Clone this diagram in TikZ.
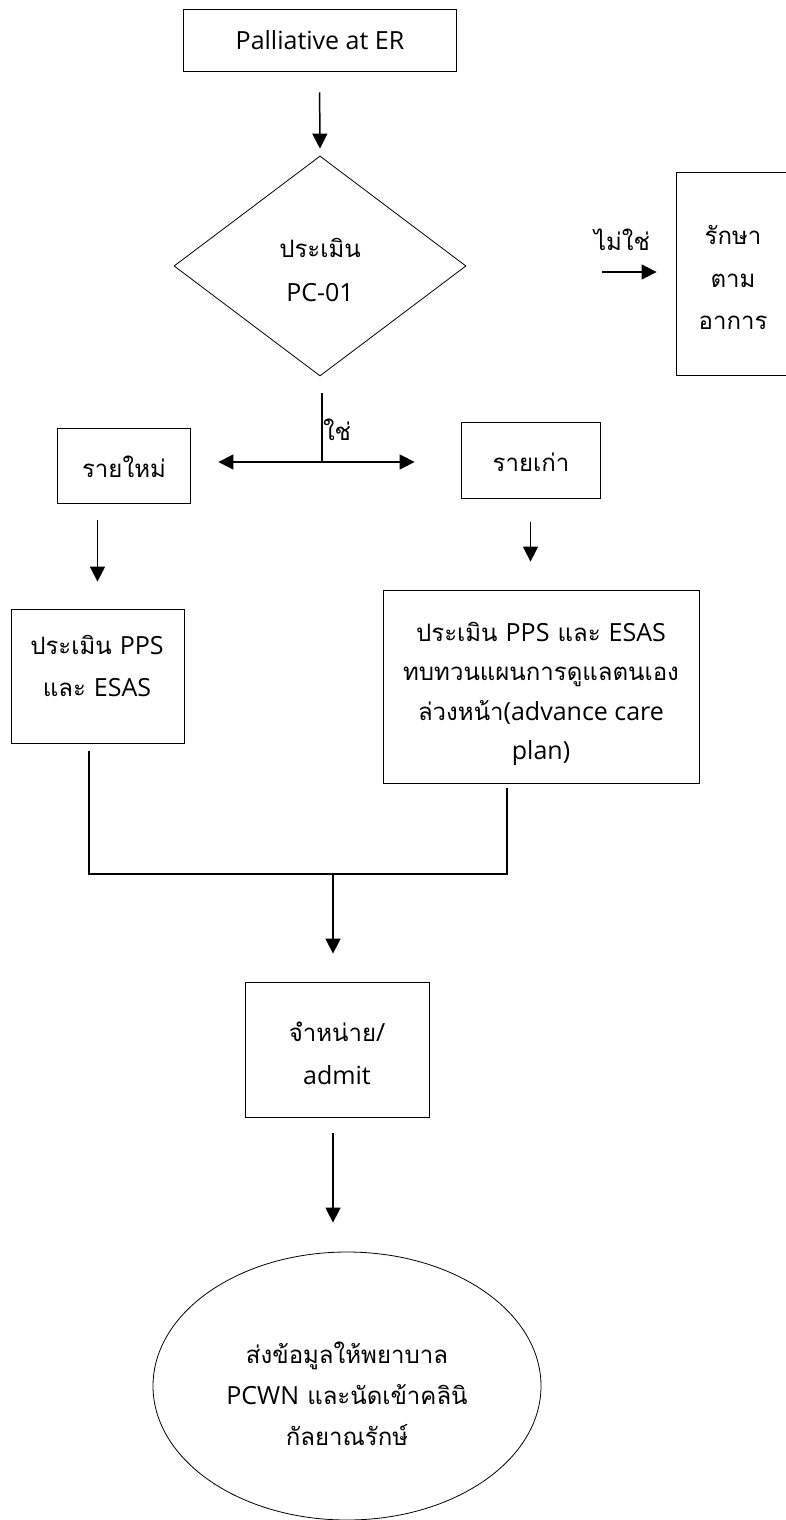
\documentclass[tikz,border=0pt]{standalone}
\usepackage{fontspec}
\setmainfont[Script=Thai]{Loma}
\newfontfamily\latinfont{Open Sans}
\newcommand\latpart[1]{{\latinfont\fontsize{25pt}{25pt}\selectfont #1}}
\usetikzlibrary{shapes.geometric,arrows.meta}
\begin{document}
\begin{tikzpicture}[x=1pt,y=-1pt,
  box/.style={draw,line width=0.8pt,inner sep=0pt,minimum width=#1},
  txt/.style={align=center,inner sep=0pt,font=\fontsize{24pt}{#1}\selectfont},
  txt/.default=42pt,
  conn/.style={line width=1.5pt},
  arr/.style={conn,-{Triangle[length=15pt,width=15pt]}},
  arrboth/.style={conn,{Triangle[length=15pt,width=15pt]}-{Triangle[length=15pt,width=15pt]}}]
\useasboundingbox (0,0) rectangle (785,1520);

% shapes
\node[box=273pt,minimum height=62pt] (start) at (319.5,40) {};
\node[draw,line width=0.8pt,diamond,inner sep=0pt,minimum width=292pt,minimum height=220pt] (check) at (320,266) {};
\node[box=114pt,minimum height=203pt] (treat) at (733,273.5) {};
\node[box=133pt,minimum height=75pt] (new) at (123.5,465.5) {};
\node[box=139pt,minimum height=76pt] (old) at (530.5,460) {};
\node[box=173pt,minimum height=134pt] (ppsl) at (97.5,676) {};
\node[box=316pt,minimum height=193pt] (ppsr) at (541,686.5) {};
\node[box=184pt,minimum height=135pt] (dis) at (337,1049.5) {};
\node[draw,line width=0.8pt,ellipse,inner sep=0pt,minimum width=388pt,minimum height=268pt] (finish) at (347,1386) {};

% texts
\node[txt] (tstart) at (320,40) {\latpart{Palliative at ER}};
\node[txt=44pt] (tcheck) at (320,270) {ประเมิน\\\latpart{PC-01}};
\node[txt=42.5pt] (ttreat) at (733,277.5) {รักษา\\ตาม\\อาการ};
\node[txt] (tnew) at (124,467) {รายใหม่};
\node[txt] (told) at (531,462) {รายเก่า};
\node[txt] (tppsl) at (97,666) {ประเมิน \latpart{PPS}\\และ \latpart{ESAS}};
\node[txt=39.5pt] (tppsr) at (541,694) {ประเมิน \latpart{PPS} และ \latpart{ESAS}\\ทบทวนแผนการดูแลตนเอง\\ล่วงหน้า\latpart{(advance care}\\\latpart{plan)}};
\node[txt=43pt] (tdis) at (337,1053.5) {จำหน่าย\latpart{/}\\\latpart{admit}};
\node[txt=41pt] (tfinish) at (347,1394) {ส่งข้อมูลให้พยาบาล\\\latpart{PCWN} และนัดเข้าคลินิ\\กัลยาณรักษ์};
\node[txt] (lno) at (622,240) {ไม่ใช่};
\node[txt] (lyes) at (337,430) {ใช่};

% junction points
\coordinate (nostart) at (602,272);
\coordinate (yesjoin) at (322,462);
\coordinate (jl) at (89,874);
\coordinate (jr) at (507,874);
\coordinate (jm) at (333,874);

% connectors
\draw[arr,shorten <=21pt,shorten >=7pt] (start.south) -- (check.north);
\draw[arr,shorten >=19pt] (nostart) -- (treat.west |- nostart);
\draw[conn,shorten <=17pt] (yesjoin |- check.south) -- (yesjoin);
\draw[arrboth,shorten <=28pt,shorten >=46pt] (new.east |- yesjoin) -- (old.west |- yesjoin);
\draw[arr,shorten <=17pt,shorten >=27pt] (ppsl.north |- new.south) -- (ppsl.north);
\draw[arr,shorten <=24pt,shorten >=28pt] (old.south) -- (old.south |- ppsr.north);
\draw[conn,shorten <=8pt,shorten >=5pt] (jl |- ppsl.south) -- (jl) -- (jr) -- (jr |- ppsr.south);
\draw[arr,shorten >=28pt] (jm) -- (jm |- dis.north);
\draw[arr,shorten <=16pt,shorten >=29pt] (jm |- dis.south) -- (jm |- finish.north);
\end{tikzpicture}
\end{document}
